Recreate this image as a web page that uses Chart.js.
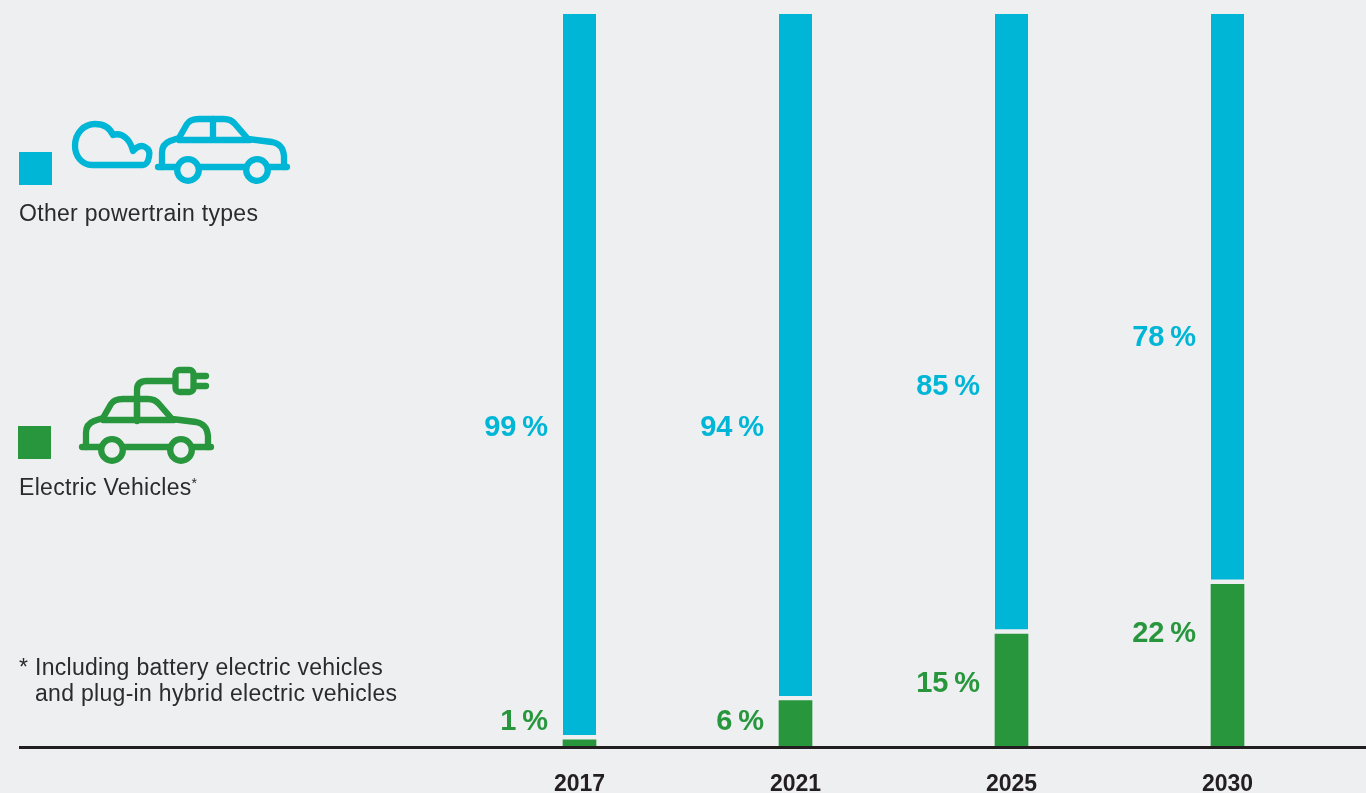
<!DOCTYPE html>
<html><head><meta charset="utf-8">
<style>
html,body{margin:0;padding:0;background:#eeeff1;width:1366px;height:793px;overflow:hidden}
#wrap{position:relative;width:1366px;height:793px}
canvas{position:absolute;left:0;top:0}
.t{position:absolute;font:23px "Liberation Sans",Arial,sans-serif;color:#2b2a2c;white-space:nowrap;line-height:26px;letter-spacing:.3px}
sup{font-size:14px;line-height:0;vertical-align:7px}
.sq{position:absolute;width:33px;height:33px}
svg{position:absolute;left:0;top:0}
</style></head><body>
<div id="wrap">
<canvas id="c" width="1366" height="793"></canvas>
<div class="sq" style="left:19px;top:152px;background:#00b6d6"></div>
<div class="sq" style="left:18px;top:426px;background:#27963c"></div>
<svg width="1366" height="793" fill="none" stroke-width="6.3" stroke-linecap="round" stroke-linejoin="round">
<defs><g id="car">
<path d="M158 167H287"/>
<path d="M162 167V153Q162 144 170 141L179 138L187 124Q190 119 199 119H224Q231 119 235 124L248 139L272 142Q283 144 284 156V167"/>
<path d="M179 140H250M213 119V140"/>
<circle cx="188" cy="170" r="10.8" fill="#eeeff1"/><circle cx="257" cy="170" r="10.8" fill="#eeeff1"/>
</g></defs>
<g stroke="#00b6d6"><use href="#car"/>
<path d="M143 165H92C82 165 75 156 75 146C75 132 85 124 95 124C104 124 110 128 113 135C122 132 130 139 133 151C137 146 142 145 145 147C149 149 150 153 149 157C148 162 146 165 143 165Z"/></g>
<g stroke="#27963c"><use href="#car" transform="translate(-76 280)"/>
<path d="M137 421V390Q137 381 147 381H175"/>
<rect x="175.5" y="370" width="18" height="22" rx="4"/>
<path d="M195 376H206M195 386H206"/></g>
</svg>
<div class="t" style="left:19px;top:200px">Other powertrain types</div>
<div class="t" style="left:19px;top:474px">Electric Vehicles<sup>*</sup></div>
<div class="t" style="left:19px;top:654px">* Including battery electric vehicles</div>
<div class="t" style="left:35px;top:680px">and plug-in hybrid electric vehicles</div>
</div>
<script src="https://cdn.jsdelivr.net/npm/chart.js@4"></script>
<script>
const years = ['2017','2021','2025','2030'];
const electricLabels = [1,6,15,22];
const otherLabels = [99,94,85,78];
const electricBars = [0.85,6.2,15.3,22.1];
const otherBars = [99.15,93.8,84.7,77.9];
const BLUE='#00b6d6', GREEN='#27963c', BG='#eeeff1', AXIS='#231f20';
const electricLabelY=[722,722,684,634];
const otherLabelY=[428,428,387,338];
const extras={id:'extras',afterDatasetsDraw(ch){
  const c=ch.ctx,x=ch.scales.x;
  c.save();
  c.fillStyle=AXIS;c.fillRect(19,746,1347,3);
  c.font='bold 29px "Liberation Sans",Arial,sans-serif';
  c.textAlign='right';c.textBaseline='middle';
  years.forEach((y,i)=>{
    const r=x.getPixelForValue(i)-31.5;
    c.fillStyle=GREEN;c.fillText(electricLabels[i]+'\u2009%',r,electricLabelY[i]);
    c.fillStyle=BLUE;c.fillText(otherLabels[i]+'\u2009%',r,otherLabelY[i]);
  });
  c.restore();
}};
new Chart(document.getElementById('c'),{
  type:'bar',
  data:{labels:years,datasets:[
    {label:'Electric Vehicles',data:electricBars,backgroundColor:GREEN,borderWidth:0},
    {label:'Other powertrain types',data:otherBars,backgroundColor:BLUE,borderColor:BG,borderWidth:{bottom:5,top:0,left:0,right:0},borderSkipped:false}
  ]},
  options:{
    responsive:false,animation:false,
    layout:{padding:{left:471.5,right:30.5,top:14,bottom:0}},
    plugins:{legend:{display:false},tooltip:{enabled:false}},
    datasets:{bar:{barThickness:33}},
    scales:{
      x:{stacked:true,grid:{display:false,drawTicks:false},border:{display:false},
         afterFit(s){s.height=47;},
         ticks:{padding:25,color:AXIS,maxRotation:0,font:{family:'"Liberation Sans",Arial,sans-serif',size:23,weight:'bold'}}},
      y:{stacked:true,display:false,min:0,max:100}
    }
  },
  plugins:[extras]
});
</script>
</body></html>
